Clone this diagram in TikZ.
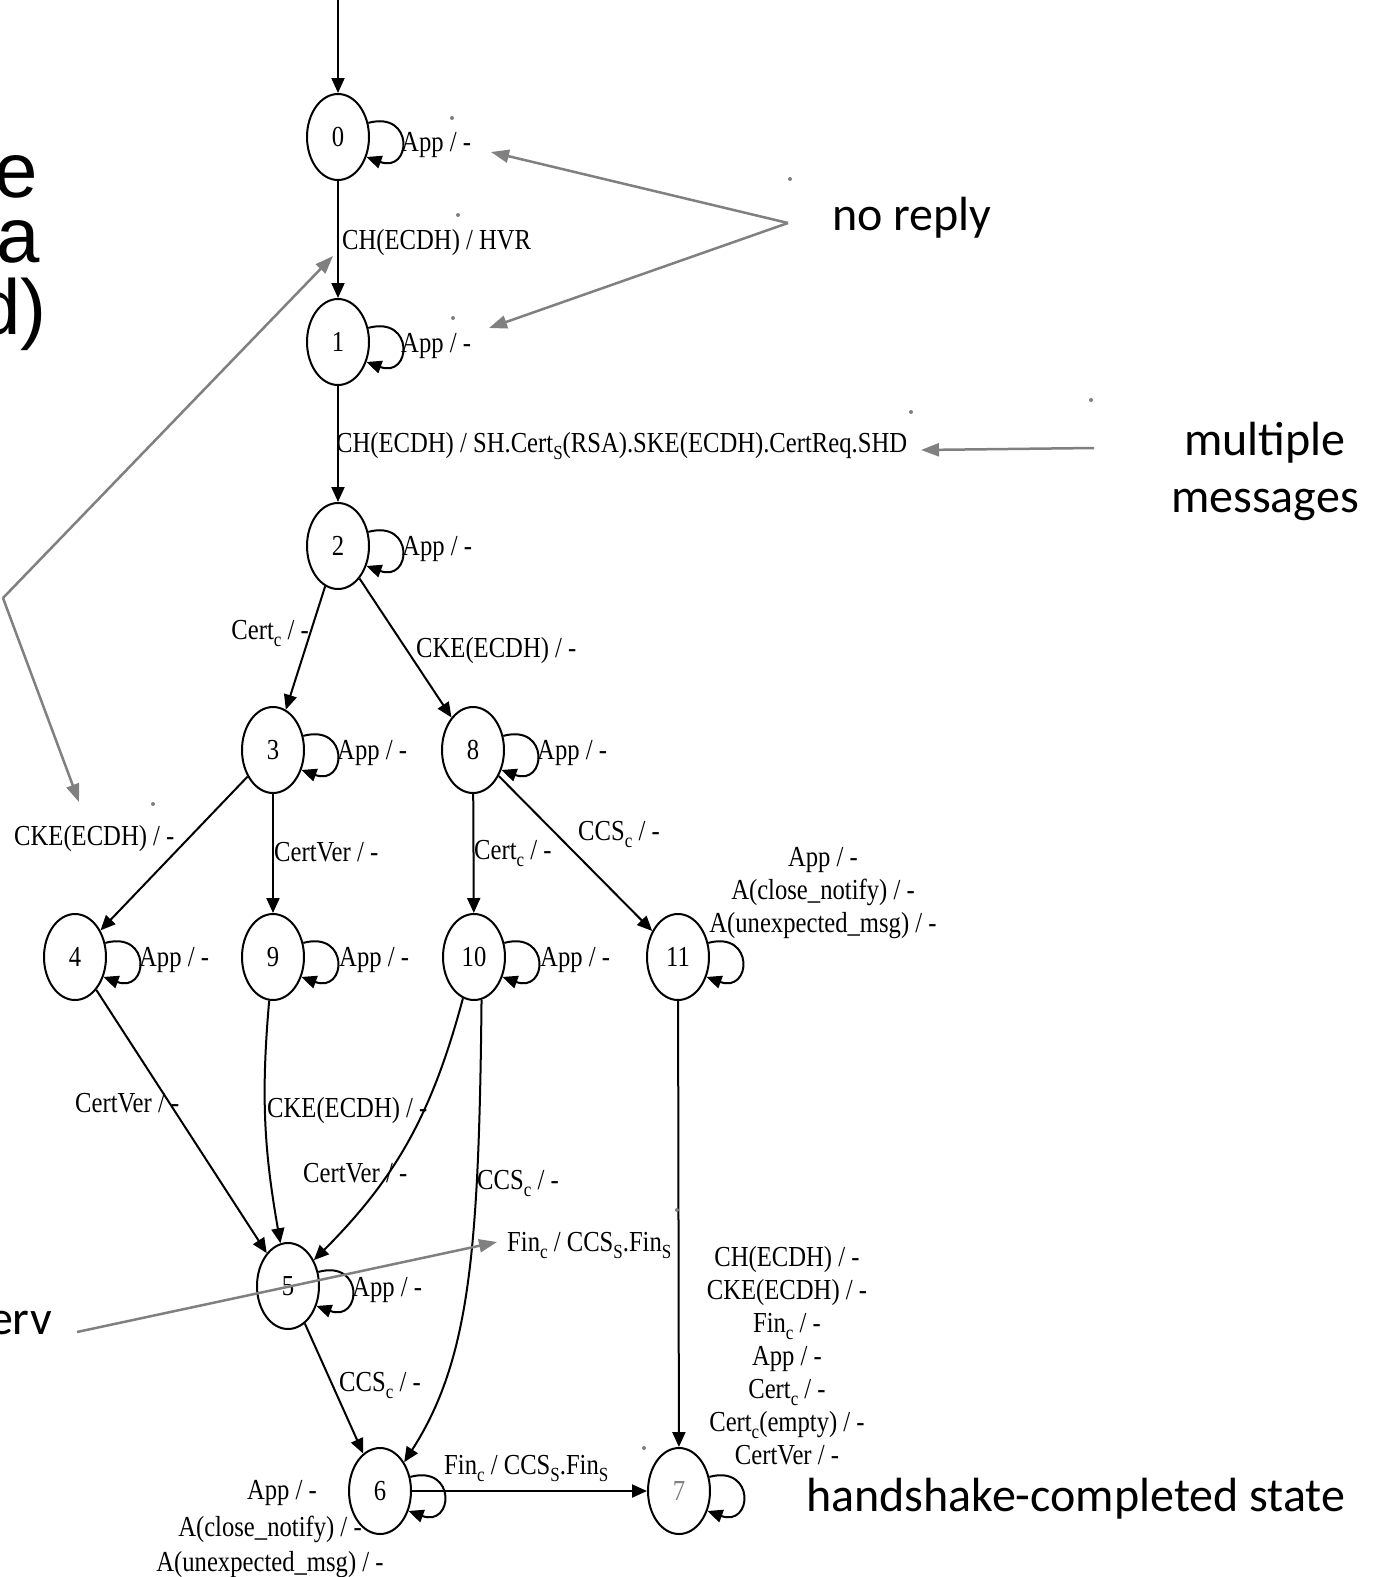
\documentclass[tikz,border=0pt]{standalone}
\usepackage{fontspec}
\usetikzlibrary{shapes.geometric,arrows.meta}
\newfontfamily\gvfont[FakeStretch=0.85]{Liberation Serif}
\newfontfamily\notefont{Carlito}
\newfontfamily\bigsans{Liberation Sans}
\definecolor{noteGray}{RGB}{128,128,128}
% lowered subscript in the edge-label font
\newcommand\lowix[1]{\raisebox{-7pt}{\fontsize{20}{20}\selectfont #1}}

\begin{document}
\begin{tikzpicture}[x=1pt,y=1pt,
  state/.style={ellipse,draw,line width=2pt,minimum width=62pt,minimum height=86pt,
                inner sep=0pt,font=\gvfont\fontsize{29}{33}\selectfont},
  edge/.style={line width=2pt,-{Triangle[length=15pt,width=13pt]}},
  lbl/.style={inner sep=0pt,anchor=base west,font=\gvfont\fontsize{29}{33}\selectfont},
  multi/.style={inner sep=0pt,align=center,font=\gvfont\fontsize{29}{33}\selectfont},
  note/.style={draw=noteGray,line width=2.5pt,-{Triangle[length=18pt,width=13pt]}},
  notetext/.style={inner sep=0pt,font=\notefont\fontsize{48}{57}\selectfont},
  bigtext/.style={inner sep=0pt,anchor=base east,text depth=0pt,
                  font=\bigsans\fontsize{78}{78}\selectfont},
  speck/.style={fill=noteGray,circle,inner sep=0pt,minimum size=4pt}
]
\fill[white] (0,0) rectangle (1377,-1577);
\useasboundingbox (0,0) rectangle (1377,-1577);

% ---- states ----
\node[state] (n0)  at (338,-137)  {0};
\node[state] (n1)  at (338,-342)  {1};
\node[state] (n2)  at (338,-546)  {2};
\node[state] (n3)  at (273,-750)  {3};
\node[state] (n8)  at (473,-750)  {8};
\node[state] (n4)  at (75,-957)   {4};
\node[state] (n9)  at (273,-957)  {9};
\node[state] (n10) at (474,-957)  {10};
\node[state] (n11) at (678,-957)  {11};
\node[state] (n5)  at (288,-1286) {5};
\node[state] (n6)  at (380,-1491) {6};
\node[state] (n7)  at (679,-1491) {\color{gray}7};

% ---- initial arrow ----
\coordinate (init) at (338,0);
\draw[edge] (init) -- (n0);

% ---- self loops ----
\foreach \s in {n0,n1,n2,n3,n8,n4,n9,n10,n11,n5,n6,n7}
  \draw[edge] (\s.25) .. controls +(15:48) and +(-20:48) .. (\s.-35);

% ---- transitions ----
\draw[edge] (n0) -- (n1);
\draw[edge] (n1) -- (n2);
\draw[edge] (n2) -- (n3);
\draw[edge] (n2) -- (n8);
\draw[edge] (n3) -- (n4);
\draw[edge] (n3) -- (n9);
\draw[edge] (n8) -- (n10);
\draw[edge] (n8) -- (n11);
\draw[edge] (n4) -- (n5);
\draw[edge] (n9) to[out=-95,in=100] (n5);
\draw[edge] (n10) to[out=-105,in=45] (n5);
\draw[edge] (n10.-80) .. controls (479,-1250) and (470,-1360) .. (n6.50);
\draw[edge] (n11) -- (n7);
\draw[edge] (n5) -- (n6);
\draw[edge] (n6) -- (n7);

% ---- labels ----
\node[lbl] (l0)  at (401,-151) {App / -};
\node[lbl] (l01) at (342,-249) {CH(ECDH) / HVR};
\node[lbl] (l1)  at (401,-352) {App / -};
\node[lbl] (l12) at (336,-452) {CH(ECDH) / SH.Cert\lowix{S}(RSA).SKE(ECDH).CertReq.SHD};
\node[lbl] (l2)  at (402,-555) {App / -};
\node[lbl,anchor=base east] (l23) at (309,-639) {Cert\lowix{c} / -};
\node[lbl] (l28) at (416,-657) {CKE(ECDH) / -};
\node[lbl] (l3)  at (337,-759) {App / -};
\node[lbl] (l8)  at (537,-759) {App / -};
\node[lbl] (l34) at (14,-845)  {CKE(ECDH) / -};
\node[lbl] (l39) at (274,-861) {CertVer / -};
\node[lbl] (l810) at (474,-859) {Cert\lowix{c} / -};
\node[lbl] (l811) at (578,-840) {CCS\lowix{c} / -};
\node[lbl] (l4)  at (139,-966) {App / -};
\node[lbl] (l9)  at (339,-966) {App / -};
\node[lbl] (l10) at (540,-966) {App / -};
\node[multi] (l11) at (823,-893) {App / -\\A(close\_notify) / -\\A(unexpected\_msg) / -};
\node[lbl] (l45) at (75,-1112) {CertVer / -};
\node[lbl] (l95) at (267,-1117) {CKE(ECDH) / -};
\node[lbl] (l105) at (303,-1182) {CertVer / -};
\node[lbl] (l106) at (477,-1189) {CCS\lowix{c} / -};
\node[lbl] (l117) at (507,-1251) {Fin\lowix{c} / CCS\lowix{S}.Fin\lowix{S}};
\node[multi] (l7) at (787,-1356) {CH(ECDH) / -\\CKE(ECDH) / -\\Fin\lowix{c} / -\\App / -\\Cert\lowix{c} / -\\Cert\lowix{c}(empty) / -\\CertVer / -};
\node[lbl] (l5)  at (352,-1296) {App / -};
\node[lbl] (l56) at (339,-1391) {CCS\lowix{c} / -};
\node[lbl] (l67) at (444,-1474) {Fin\lowix{c} / CCS\lowix{S}.Fin\lowix{S}};
\node[lbl,anchor=base] (l6a) at (282,-1499) {App / -};
\node[lbl,anchor=base] (l6b) at (270,-1536) {A(close\_notify) / -};
\node[lbl,anchor=base] (l6c) at (270,-1571) {A(unexpected\_msg) / -};

% ---- small marks ----
\foreach \p in {(452,-118),(458,-215),(453,-318),(911,-412),(153,-804),(677,-1210),(644,-1448),(1091,-400),(790,-179)}
  \fill[noteGray] \p circle (2pt);

% ---- annotations ----
\node[notetext,anchor=west] (noreply) at (832,-218) {no reply};
\coordinate (nrTail) at (788,-223);
\coordinate (nrTipA) at (491,-152);
\coordinate (nrTipB) at (489,-328);
\draw[note] (nrTail) -- (nrTipA);
\draw[note] (nrTail) -- (nrTipB);

\node[notetext,align=center] (multimsg) at (1265,-471) {multiple\\messages};
\coordinate (mmTail) at (1094,-448);
\coordinate (mmTip) at (921,-450);
\draw[note] (mmTail) -- (mmTip);

\node[notetext,anchor=west] (hsdone) at (806,-1499) {handshake-completed state};

\node[bigtext,text height=41pt] (tl1) at (38,-197) {e};
\node[bigtext,text height=41pt] (tl2) at (40,-262) {a};
\node[bigtext,text height=56pt] (tl3) at (47,-334) {d)};
\coordinate (leftJoin) at (3,-598);
\coordinate (leftTipA) at (333,-256);
\coordinate (leftTipB) at (79,-802);
\draw[note] (leftJoin) -- (leftTipA);
\draw[note] (leftJoin) -- (leftTipB);

\node[notetext,anchor=base east,font=\notefont\fontsize{48}{50}\selectfont] (erv) at (52,-1334) {erv};
\coordinate (ervTail) at (77,-1332);
\coordinate (ervTip) at (497,-1242);
\draw[note] (ervTail) -- (ervTip);
\end{tikzpicture}
\end{document}
